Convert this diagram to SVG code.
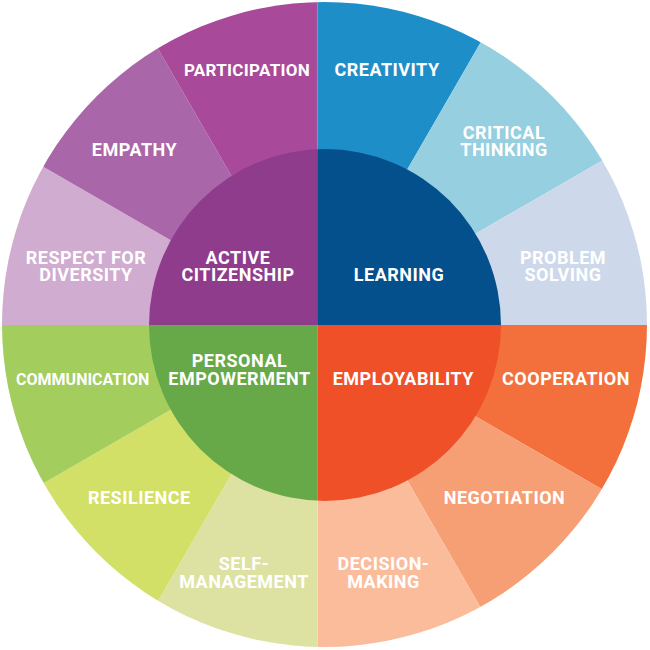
<svg xmlns="http://www.w3.org/2000/svg" width="650" height="650" viewBox="0 0 650 650">
<style>
text{font-family:Roboto,"Liberation Sans",Arial,sans-serif;font-weight:700;fill:#ffffff;text-anchor:middle;font-size:18px;letter-spacing:0.5px}
.sm{font-size:16px;letter-spacing:0}
.md{font-size:17px;letter-spacing:0.3px}
</style>
<defs>
<clipPath id="outer"><circle cx="324.5" cy="324.5" r="322.5"/></clipPath>
<clipPath id="inner"><circle cx="325" cy="325" r="176"/></clipPath>
</defs>
<rect width="650" height="650" fill="#ffffff"/>
<g clip-path="url(#outer)">
<g id="creativity"><path d="M317.5 325L317.5 -175L567.5 -108Z" fill="#1e8ec9"/></g>
<g id="critical-thinking"><path d="M317.5 325L567.5 -108L750.5 75Z" fill="#95cfe0"/></g>
<g id="problem-solving"><path d="M317.5 325L750.5 75L817.5 325Z" fill="#cdd9ea"/></g>
<g id="cooperation"><path d="M317.5 325L817.5 325L750.5 575Z" fill="#f36f3b"/></g>
<g id="negotiation"><path d="M317.5 325L750.5 575L567.5 758Z" fill="#f79f74"/></g>
<g id="decision-making"><path d="M317.5 325L567.5 758L317.5 825Z" fill="#fbbc9c"/></g>
<g id="self-management"><path d="M317.5 325L317.5 825L67.5 758Z" fill="#dde2a3"/></g>
<g id="resilience"><path d="M317.5 325L67.5 758L-115.5 575Z" fill="#d3e068"/></g>
<g id="communication"><path d="M317.5 325L-115.5 575L-182.5 325Z" fill="#a3cd5d"/></g>
<g id="respect-for-diversity"><path d="M317.5 325L-182.5 325L-115.5 75Z" fill="#d0acd0"/></g>
<g id="empathy"><path d="M317.5 325L-115.5 75L67.5 -108Z" fill="#a966a9"/></g>
<g id="participation"><path d="M317.5 325L67.5 -108L317.5 -175Z" fill="#a9499a"/></g>
</g>
<g clip-path="url(#inner)">
<g id="active-citizenship"><rect x="0" y="0" width="317.5" height="325" fill="#903c8c"/></g>
<g id="learning"><rect x="317.5" y="0" width="332.5" height="325" fill="#04508c"/></g>
<g id="personal-empowerment"><rect x="0" y="325" width="317.5" height="325" fill="#67a949"/></g>
<g id="employability"><rect x="317.5" y="325" width="332.5" height="325" fill="#f05028"/></g>
</g>
<g id="connectors"></g>
<g id="labels">
<text class="md" x="247" y="76">PARTICIPATION</text>
<text x="134.5" y="156">EMPATHY</text>
<text x="86" y="263.5">RESPECT FOR</text>
<text x="86" y="281">DIVERSITY</text>
<text x="238" y="263.5">ACTIVE</text>
<text x="238" y="281">CITIZENSHIP</text>
<text x="387" y="76">CREATIVITY</text>
<text x="504" y="138.5">CRITICAL</text>
<text x="504" y="156">THINKING</text>
<text x="563" y="264">PROBLEM</text>
<text x="563" y="281">SOLVING</text>
<text x="399" y="281">LEARNING</text>
<text x="239.5" y="367">PERSONAL</text>
<text x="239.5" y="385">EMPOWERMENT</text>
<text class="sm" x="82.7" y="385">COMMUNICATION</text>
<text x="139.3" y="504">RESILIENCE</text>
<text x="244" y="570">SELF-</text>
<text x="244" y="587.5">MANAGEMENT</text>
<text x="403.3" y="385">EMPLOYABILITY</text>
<text x="566" y="385">COOPERATION</text>
<text x="504.5" y="504">NEGOTIATION</text>
<text x="383.5" y="570">DECISION-</text>
<text x="383.5" y="587.5">MAKING</text>
</g>
</svg>
